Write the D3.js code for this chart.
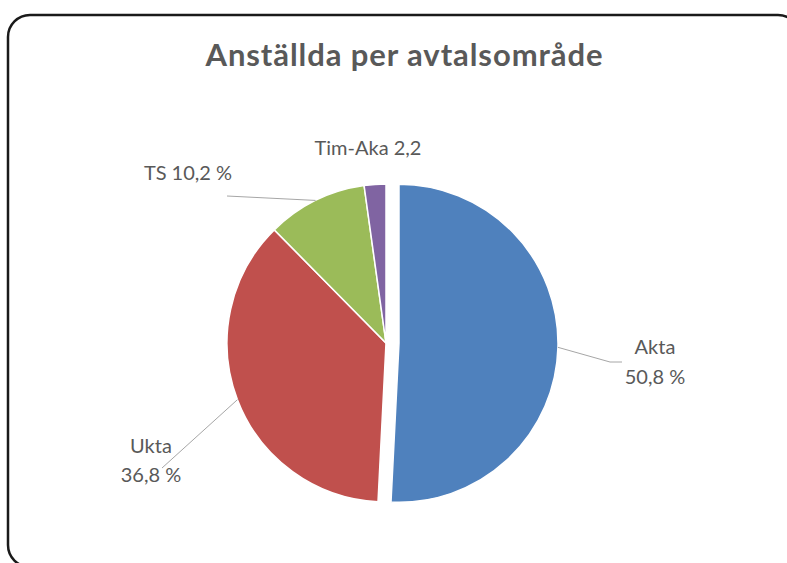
<!DOCTYPE html>
<html>
<head>
<meta charset="utf-8">
<script src="https://cdn.jsdelivr.net/npm/d3@7"></script>
<style>
  html, body { margin: 0; padding: 0; background: #fff; }
  svg { display: block; }
</style>
</head>
<body>
<svg id="chart"></svg>
<script>
// data
const categories = ['Akta', 'Ukta', 'TS', 'Tim-Aka'];
const values = [50.8, 36.8, 10.2, 2.2];
const labelTexts = [['Akta', '50,8 %'], ['Ukta', '36,8 %'], ['TS 10,2 %'], ['Tim-Aka 2,2']];
const colors = ['#4F81BD', '#C0504D', '#9BBB59', '#8064A2'];

const width = 787;
const height = 563;
const title = 'Anställda per avtalsområde';

const cx = 386;
const cy = 343;
const radius = 159;
const explode = [13, 0, 0, 0];

const svg = d3.select('#chart')
  .attr('width', width)
  .attr('height', height);

// background + rounded frame
svg.append('rect')
  .attr('width', width)
  .attr('height', height)
  .attr('fill', '#fff');

svg.append('rect')
  .attr('x', 8)
  .attr('y', 15)
  .attr('width', 792)
  .attr('height', 552)
  .attr('rx', 22)
  .attr('fill', 'none')
  .attr('stroke', '#1a1a1a')
  .attr('stroke-width', 2.5);

// title
svg.append('text')
  .attr('x', 404)
  .attr('y', 66)
  .attr('text-anchor', 'middle')
  .attr('font-family', 'Lato, sans-serif')
  .attr('font-weight', 'bold')
  .attr('font-size', '31px')
  .attr('textLength', 397)
  .attr('lengthAdjust', 'spacing')
  .attr('fill', '#595959')
  .text(title);

const pie = d3.pie()
  .value(d => d)
  .sort(null);

const pieData = pie(values);

const arc = d3.arc()
  .innerRadius(0)
  .outerRadius(radius);

const offset = (d, i) => {
  const a = (d.startAngle + d.endAngle) / 2;
  return [explode[i] * Math.sin(a), -explode[i] * Math.cos(a)];
};

const chartGroup = svg.append('g')
  .attr('transform', `translate(${cx},${cy})`)
  .attr('id', 'viz');

chartGroup.selectAll('path')
  .data(pieData)
  .enter()
  .append('path')
  .attr('transform', (d, i) => `translate(${offset(d, i)})`)
  .attr('d', arc)
  .attr('fill', (d, i) => colors[i])
  .attr('stroke', 'white')
  .attr('stroke-width', 1.5);

// leader lines: start on the rim at the slice mid-angle, then bend
const edgePoint = (d, i) => {
  const a = (d.startAngle + d.endAngle) / 2;
  const [ox, oy] = offset(d, i);
  return [cx + ox + radius * Math.sin(a), cy + oy - radius * Math.cos(a)];
};

const leaderBends = [
  [[610, 362], [622, 362]],
  [[162, 468]],
  [[227, 196]],
  null
];

const labelPos = [
  { x: 655, y: 354, dy: 30 },
  { x: 151, y: 453, dy: 29 },
  { x: 188, y: 180, dy: 0 },
  { x: 368, y: 155, dy: 0 }
];

const line = d3.line();

pieData.forEach((d, i) => {
  if (!leaderBends[i]) return;
  svg.append('path')
    .attr('d', line([edgePoint(d, i), ...leaderBends[i]]))
    .attr('fill', 'none')
    .attr('stroke', '#a6a6a6')
    .attr('stroke-width', 1);
});

const labels = svg.append('g')
  .attr('font-family', 'Lato, sans-serif')
  .attr('font-size', '20px')
  .attr('fill', '#595959')
  .attr('text-anchor', 'middle');

pieData.forEach((d, i) => {
  const t = labels.append('text')
    .attr('x', labelPos[i].x)
    .attr('y', labelPos[i].y);
  labelTexts[i].forEach((s, j) => {
    t.append('tspan')
      .attr('x', labelPos[i].x)
      .attr('y', labelPos[i].y + j * labelPos[i].dy)
      .text(s);
  });
});
</script>
</body>
</html>
